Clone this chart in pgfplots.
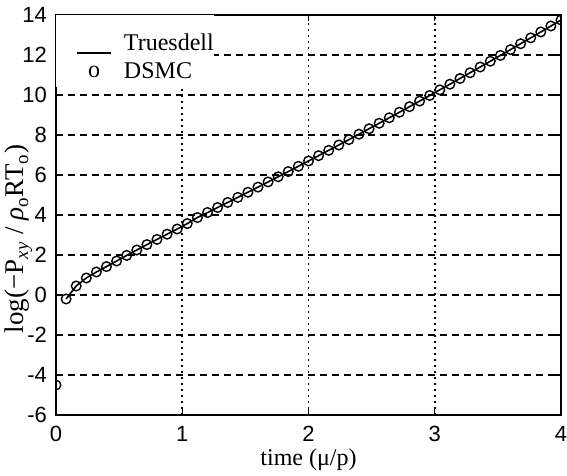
\documentclass[border=0pt]{standalone}
\usepackage{fontspec}
\setmainfont{Liberation Serif}
\newfontfamily\tickfont{Liberation Sans}
\usepackage{pgfplots}
\usepackage{pgfplotstable}
\pgfplotsset{compat=1.18}
\pgfplotstableread{
x y
0.08 -0.20
0.16 0.45
0.24 0.85
0.32 1.15
0.40 1.42
0.48 1.70
0.56 1.98
0.64 2.25
0.72 2.52
0.80 2.78
0.88 3.04
0.96 3.30
1.04 3.57
1.12 3.873
1.20 4.123
1.28 4.374
1.36 4.627
1.44 4.881
1.52 5.137
1.60 5.394
1.68 5.653
1.76 5.912
1.84 6.173
1.92 6.436
2.00 6.700
2.08 6.965
2.16 7.232
2.24 7.500
2.32 7.769
2.40 8.041
2.48 8.313
2.56 8.587
2.64 8.861
2.72 9.138
2.80 9.416
2.88 9.695
2.96 9.975
3.04 10.257
3.12 10.540
3.20 10.825
3.28 11.111
3.36 11.399
3.44 11.687
3.52 11.978
3.60 12.269
3.68 12.563
3.76 12.857
3.84 13.152
3.92 13.450
4.00 13.748
}\truesdell
\pgfplotstableread{
x y
0.00 -4.50
0.08 -0.20
0.16 0.45
0.24 0.85
0.32 1.15
0.40 1.42
0.48 1.70
0.56 1.98
0.64 2.25
0.72 2.52
0.80 2.78
0.88 3.04
0.96 3.30
1.04 3.57
1.12 3.873
1.20 4.123
1.28 4.374
1.36 4.627
1.44 4.881
1.52 5.137
1.60 5.394
1.68 5.653
1.76 5.912
1.84 6.173
1.92 6.436
2.00 6.700
2.08 6.965
2.16 7.232
2.24 7.500
2.32 7.769
2.40 8.041
2.48 8.313
2.56 8.587
2.64 8.861
2.72 9.138
2.80 9.416
2.88 9.695
2.96 9.975
3.04 10.257
3.12 10.540
3.20 10.825
3.28 11.111
3.36 11.399
3.44 11.687
3.52 11.978
3.60 12.269
3.68 12.563
3.76 12.857
3.84 13.152
3.92 13.450
4.00 13.748
}\dsmc
\begin{document}
\begin{tikzpicture}
\begin{axis}[
  scale only axis, width=252.5pt, height=200pt,
  xmin=0, xmax=4, ymin=-6, ymax=14,
  xtick={0,1,2,3,4}, ytick={-6,-4,-2,0,2,4,6,8,10,12,14},
  tick align=inside, major tick length=3pt,
  axis line style={line width=0.9pt},
  every tick/.style={black, line width=0.6pt},
  grid=major,
  x grid style={black, line width=0.9pt, dash pattern=on 1pt off 2pt},
  y grid style={black, line width=0.9pt, dash pattern=on 3.5pt off 2.5pt},
  /pgf/number format/assume math mode=true,
  tick label style={font=\tickfont\fontsize{11}{12}\selectfont},
  xticklabel style={yshift=-2pt},
  yticklabel style={xshift=-1pt},
  xlabel={time (μ/p)},
  every axis x label/.style={at={(axis description cs:0.5,-0.125)}, anchor=base},
  ylabel={log(−P\textsubscript{\textit{xy}} / \textit{ρ}\textsubscript{o}RT\textsubscript{o})},
  every axis y label/.style={at={(axis description cs:-0.074,0.44)}, rotate=90, anchor=center},
  xlabel style={font=\fontsize{12}{14}\selectfont},
  ylabel style={font=\fontsize{13.5}{15}\selectfont},
  clip marker paths=true,
  legend style={at={(axis description cs:0,1)}, anchor=north west,
    draw=none, fill=none, inner xsep=10pt, inner ysep=7pt,
    font=\fontsize{12}{14}\selectfont, row sep=1pt, column sep=4pt,
    cells={anchor=west}},
  legend cell align=left,
]
\fill[white] (axis cs:0,14) rectangle (axis cs:1.25,10.4);
\addplot[black, line width=0.8pt,
  legend image code/.code={\draw[black, line width=0.8pt] (0pt,-5pt) -- (17pt,-5pt);}]
  table[x=x,y=y] {\truesdell};
\addlegendentry{Truesdell}
\addplot[only marks, mark=o, mark size=2.4pt, mark options={black, line width=0.7pt, fill=none},
  legend image code/.code={\node[inner sep=0pt, anchor=base, font=\fontsize{12}{14}\selectfont] at (8.5pt,-2.5pt) {o};}]
  table[x=x,y=y] {\dsmc};
\addlegendentry{DSMC}
\end{axis}
\pgfresetboundingbox
\path ([xshift=-28pt,yshift=-30.5pt]current axis.south west) rectangle ([xshift=3pt,yshift=7.5pt]current axis.north east);
\end{tikzpicture}
\end{document}
